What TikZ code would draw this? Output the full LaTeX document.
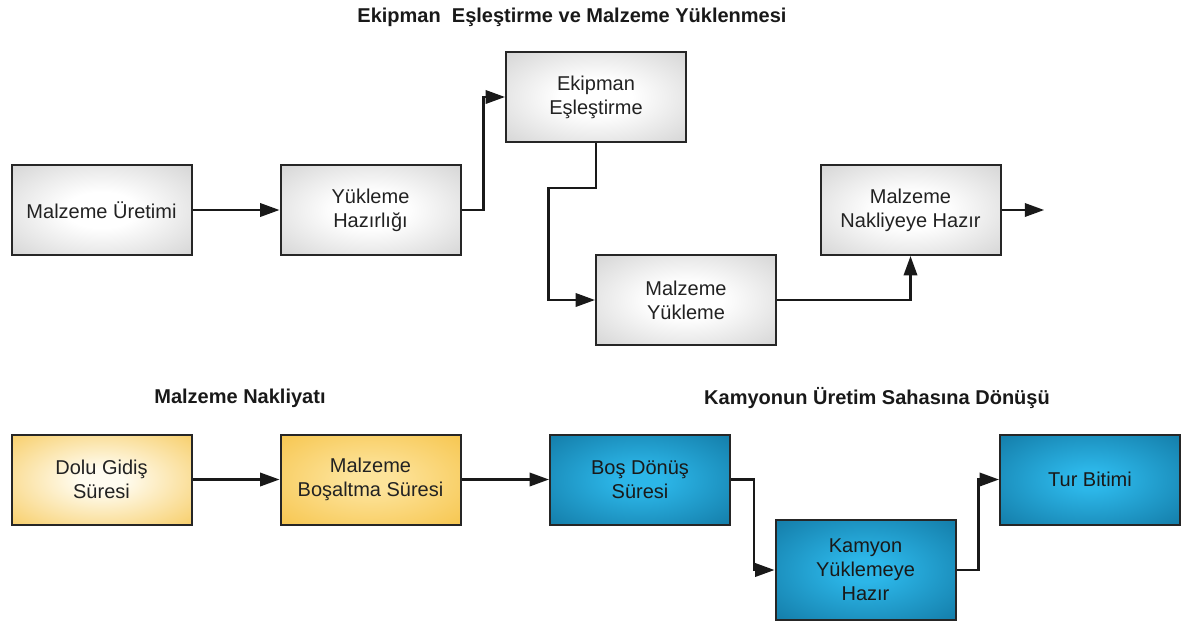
\documentclass[tikz,border=0pt]{standalone}
\usepackage{fontspec}
\setmainfont{Liberation Sans}
\usetikzlibrary{arrows.meta}
\definecolor{edgegray}{HTML}{BEBEBE}
\definecolor{yelout}{HTML}{F5C040}
\definecolor{yelin}{HTML}{FFFCF0}
\definecolor{yel2in}{HTML}{FDE39A}
\definecolor{bluein}{HTML}{2CB6E8}
\definecolor{blueout}{HTML}{08618A}
\definecolor{txt}{HTML}{222222}
\pgfdeclareradialshading{softgray}{\pgfpoint{0bp}{0bp}}{color(0bp)=(white); color(10bp)=(white); color(50bp)=(edgegray); color(100bp)=(edgegray)}
\pgfdeclareradialshading{softyel}{\pgfpoint{0bp}{0bp}}{color(0bp)=(yelin); color(6bp)=(yelin); color(45bp)=(yelout); color(100bp)=(yelout)}
\pgfdeclareradialshading{softyelb}{\pgfpoint{0bp}{0bp}}{color(0bp)=(yel2in); color(6bp)=(yel2in); color(42bp)=(yelout); color(100bp)=(yelout)}
\pgfdeclareradialshading{softblue}{\pgfpoint{0bp}{0bp}}{color(0bp)=(bluein); color(6bp)=(bluein); color(50bp)=(blueout); color(100bp)=(blueout)}
\begin{document}
\begin{tikzpicture}[x=0.75pt,y=-0.75pt,
  box/.style={draw=black!85, line width=1.5pt, minimum width=135pt, minimum height=67.5pt,
    inner sep=0pt, align=center, font=\fontsize{15}{18}\selectfont, text=txt},
  graybox/.style={box, shading=softgray},
  yelbox/.style={box, shading=softyel},
  yelboxb/.style={box, shading=softyelb},
  bluebox/.style={box, shading=softblue, text=black!90},
  conn/.style={line width=1.8pt, draw=black!90, -{Triangle[length=14.5pt,width=10pt]}},
  ttl/.style={font=\fontsize{15}{18}\selectfont\bfseries, text=black!90}
]
\useasboundingbox (0,0) rectangle (1181,622);

\node[ttl] (t1) at (572,17) {Ekipman\ \ Eşleştirme ve Malzeme Yüklenmesi};
\node[ttl] (t2) at (240,398) {Malzeme Nakliyatı};
\node[ttl] (t3) at (877,398) {Kamyonun Üretim Sahasına Dönüşü};

\node[graybox] (uret) at (101.5,210) {Malzeme Üretimi};
\node[graybox] (hazir) at (370.5,210) {Yükleme\\Hazırlığı};
\node[graybox] (ekip) at (596,97) {Ekipman\\Eşleştirme};
\node[graybox] (yuk) at (686,300) {Malzeme\\Yükleme};
\node[graybox] (nakl) at (910.5,210) {Malzeme\\Nakliyeye Hazır};

\node[yelbox] (dolu) at (101.5,479.5) {Dolu Gidiş\\Süresi};
\node[yelboxb] (bosalt) at (370.5,479.5) {Malzeme\\Boşaltma Süresi};
\node[bluebox] (bos) at (640,479.5) {Boş Dönüş\\Süresi};
\node[bluebox, minimum height=75pt] (kamyon) at (865.5,570) {Kamyon\\Yüklemeye\\Hazır};
\node[bluebox] (tur) at (1090,479.5) {Tur Bitimi};

\coordinate (out) at ([xshift=32pt]nakl.east);

\draw[conn] (uret) -- (hazir);
\draw[conn] (hazir.east) -- ++(22,0) |- (ekip.west);
\draw[conn] (ekip.south) -- ++(0,45) -| ([xshift=-35pt]yuk.west) -- (yuk.west);
\draw[conn] (yuk.east) -| (nakl.south);
\draw[conn] (nakl.east) -- (out);

\draw[conn] (dolu) -- (bosalt);
\draw[conn] (bosalt) -- (bos);
\draw[conn] (bos.east) -- ++(23,0) |- (kamyon.west);
\draw[conn] (kamyon.east) -- ++(22,0) |- (tur.west);
\end{tikzpicture}
\end{document}
